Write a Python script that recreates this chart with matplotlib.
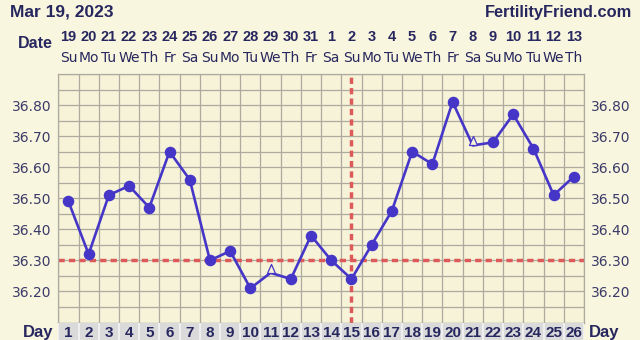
import numpy as np
import matplotlib
matplotlib.use('Agg')
import matplotlib.pyplot as plt
import matplotlib.transforms as mtransforms
from matplotlib.path import Path

# dados do gráfico
dias_ciclo = list(range(1, 27))
temperaturas = [36.49, 36.32, 36.51, 36.54, 36.47, 36.65, 36.56, 36.30, 36.33, 36.21,
                36.26, 36.24, 36.38, 36.30, 36.24, 36.35, 36.46, 36.65, 36.61, 36.81,
                36.67, 36.68, 36.77, 36.66, 36.51, 36.57]
dias_abertos = [11, 21]  # pontos com triangulo vazio
datas = ['19', '20', '21', '22', '23', '24', '25', '26', '27', '28', '29', '30', '31',
         '1', '2', '3', '4', '5', '6', '7', '8', '9', '10', '11', '12', '13']
dias_semana = ['Su', 'Mo', 'Tu', 'We', 'Th', 'Fr', 'Sa'] * 3 + ['Su', 'Mo', 'Tu', 'We', 'Th']
linha_cobertura = 36.30
dia_ovulacao = 15
ticks_y = [36.20, 36.30, 36.40, 36.50, 36.60, 36.70, 36.80]

fundo = '#F9F6DF'
fundo_plot = '#F7F3D9'
cor_grade = '#ADABA0'
cor_texto = '#27275F'
cor_linha = '#4636C8'
cor_vermelha = '#DC5A5A'

W, H = 640, 340
fig = plt.figure(figsize=(6.4, 3.4), dpi=100, facecolor=fundo)

x0, x1 = 58.3, 584.0
ytop, ybot = 74.0, 322.5
ax = fig.add_axes([x0 / W, 1 - ybot / H, (x1 - x0) / W, (ybot - ytop) / H])
ax.set_facecolor(fundo_plot)
ax.set_xlim(0.5, 26.5)
ax.set_ylim(36.10, 36.90)

# grade
for xv in np.arange(0.5, 27, 1):
    ax.axvline(xv, color=cor_grade, lw=0.9, zorder=1)
for yv in np.arange(36.10, 36.91, 0.05):
    ax.axhline(yv, color=cor_grade, lw=0.9, zorder=1)
for s in ax.spines.values():
    s.set_color(cor_grade)
    s.set_linewidth(0.9)

# linhas vermelhas
hl = ax.axhline(linha_cobertura, color=cor_vermelha, lw=2.5, zorder=2)
hl.set_dashes((1.8, 1.2))
vl = ax.axvline(dia_ovulacao, color=cor_vermelha, lw=2.5, zorder=2)
vl.set_dashes((1.8, 1.2))

# curva de temperatura
ax.plot(dias_ciclo, temperaturas, color=cor_linha, lw=1.9, zorder=3)
cheios_x = [d for d in dias_ciclo if d not in dias_abertos]
cheios_y = [t for d, t in zip(dias_ciclo, temperaturas) if d not in dias_abertos]
ax.plot(cheios_x, cheios_y, 'o', color=cor_linha, ms=7.3, zorder=4)
tri = Path([(-0.8, 0), (0.8, 0), (0, 1.8), (-0.8, 0)],
           [Path.MOVETO, Path.LINETO, Path.LINETO, Path.CLOSEPOLY])
abertos_y = [temperaturas[d - 1] for d in dias_abertos]
ax.plot(dias_abertos, abertos_y, linestyle='none', marker=tri, ms=13,
        markerfacecolor=fundo_plot, markeredgecolor=cor_linha, markeredgewidth=0.9, zorder=5)

# eixos y dos dois lados
ax.set_xticks([])
ax.set_yticks(ticks_y)
ax.set_yticklabels([f'{v:.2f}' for v in ticks_y])
ax.tick_params(axis='y', length=0, labelsize=10, labelcolor='#3A3A68', pad=5,
               left=True, right=True, labelleft=True, labelright=True)
for lab in ax.get_yticklabels():
    lab.set_family('DejaVu Sans')

# linha dos dias do ciclo embaixo
ax2 = fig.add_axes([x0 / W, 0, (x1 - x0) / W, (H - ybot) / H])
ax2.set_facecolor('#DADADA')
ax2.set_xlim(0.5, 26.5)
ax2.set_ylim(0, 1)
ax2.set_xticks([])
ax2.set_yticks([])
for s in ax2.spines.values():
    s.set_visible(False)
for xv in np.arange(0.5, 27, 1):
    ax2.axvline(xv, color='#F4F4F4', lw=1.2)
for d in dias_ciclo:
    ax2.text(d, 0.42, str(d), ha='center', va='center', fontsize=11, fontweight='bold',
             color=cor_texto, family='Liberation Sans')
fig.text(53 / W, 8 / H, 'Day', ha='right', va='center', fontsize=12, fontweight='bold',
         color=cor_texto, family='Liberation Sans')
fig.text(589 / W, 8 / H, 'Day', ha='left', va='center', fontsize=12, fontweight='bold',
         color=cor_texto, family='Liberation Sans')

# cabeçalho com datas
trans = mtransforms.blended_transform_factory(ax.transData, fig.transFigure)
for d, num, nome in zip(dias_ciclo, datas, dias_semana):
    ax.text(d, 1 - 37 / H, num, transform=trans, ha='center', va='center', fontsize=10.5,
            fontweight='bold', color=cor_texto, family='Liberation Sans')
    ax.text(d, 1 - 57.5 / H, nome, transform=trans, ha='center', va='center', fontsize=10,
            color=cor_texto, family='DejaVu Sans')
fig.text(53 / W, 1 - 43 / H, 'Date', ha='right', va='center', fontsize=11.5, fontweight='bold',
         color=cor_texto, family='Liberation Sans')

fig.text(10 / W, 1 - 12 / H, 'Mar 19, 2023', ha='left', va='center', fontsize=12.5,
         fontweight='bold', color=cor_texto, family='Liberation Sans')
fig.text(632 / W, 1 - 12 / H, 'FertilityFriend.com', ha='right', va='center', fontsize=11.8,
         fontweight='bold', color=cor_texto, family='Liberation Sans')

fig.savefig('out.png', dpi=100, facecolor=fundo)
